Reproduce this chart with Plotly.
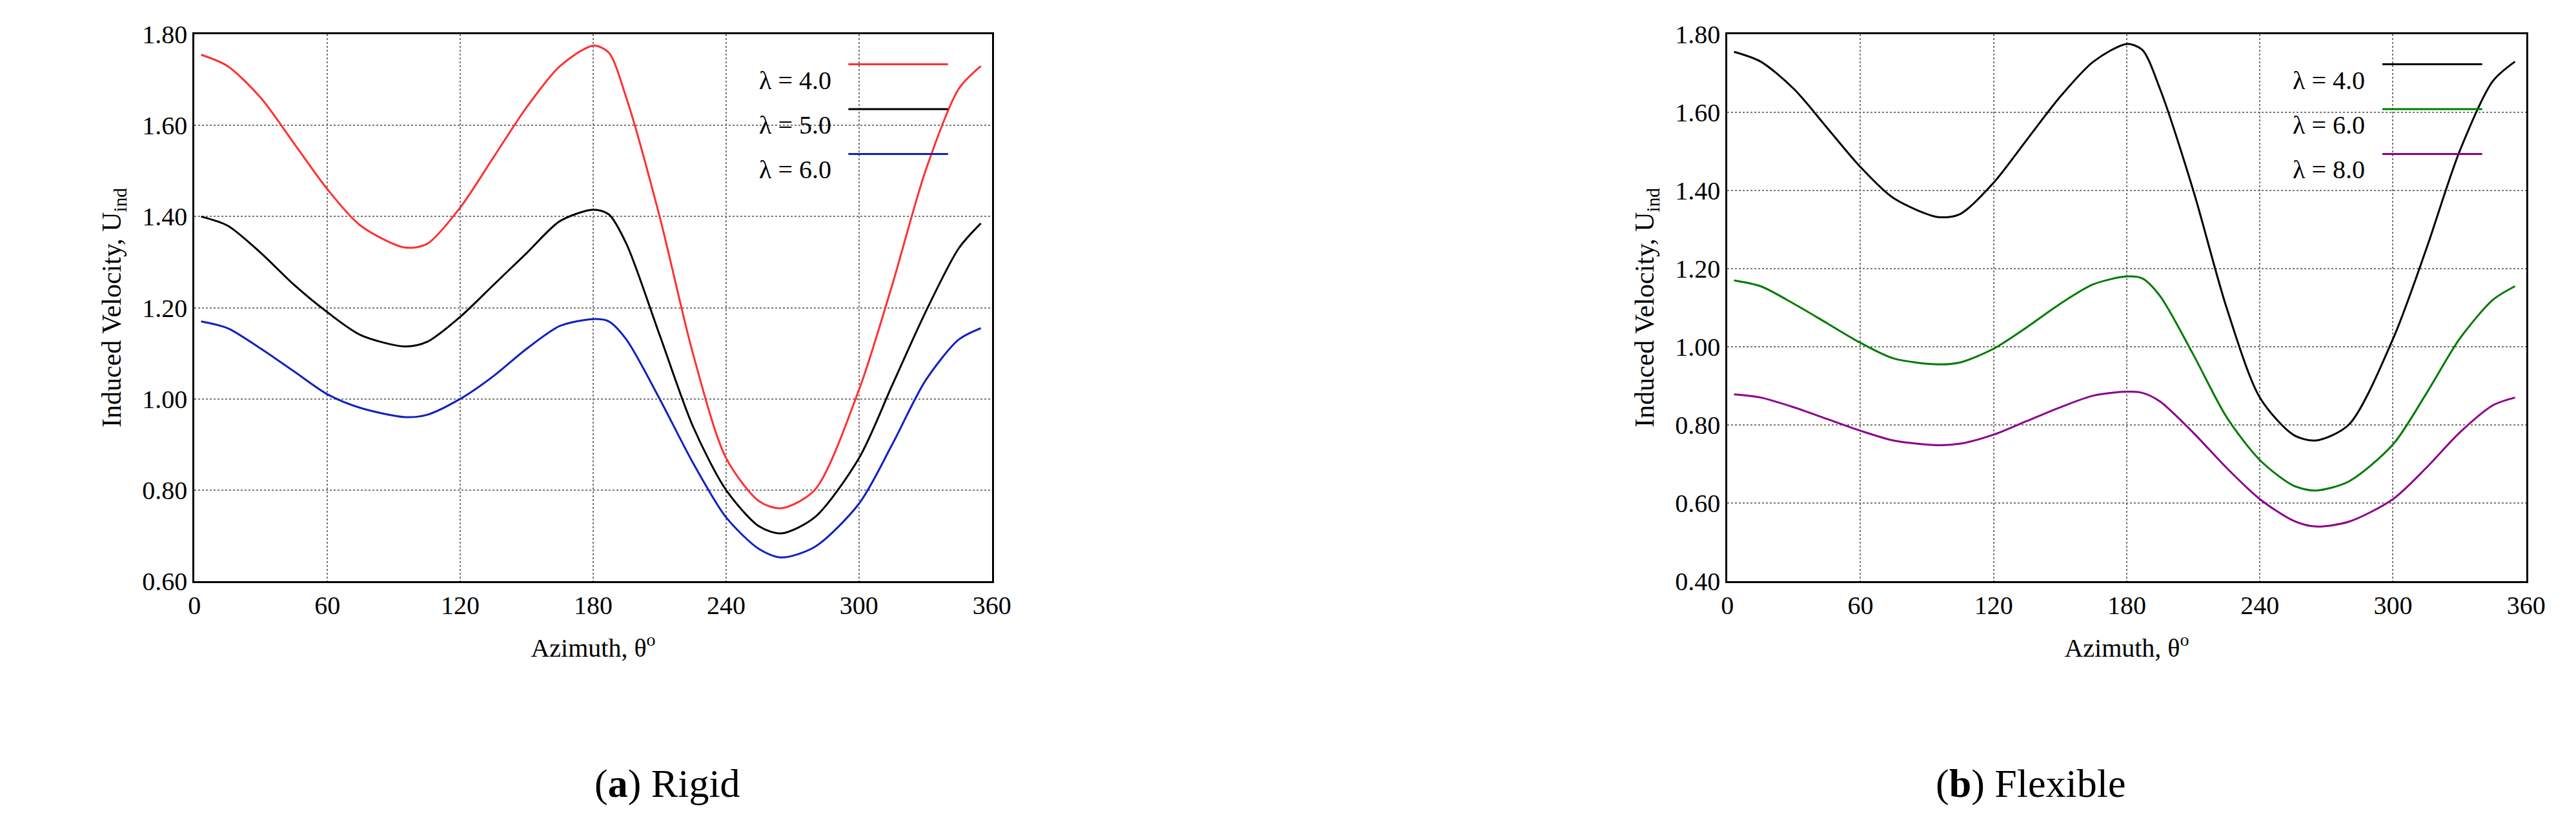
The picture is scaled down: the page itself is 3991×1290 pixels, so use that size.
import plotly.graph_objects as go
from plotly.subplots import make_subplots

# azimuth angles (deg)
theta = [3, 15, 30, 45, 60, 75, 95, 105, 120, 135, 150, 165, 180, 187, 195, 210,
         225, 240, 255, 265, 280, 300, 315, 330, 345, 355]

# rigid blade
rigid_l4 = [1.755, 1.73, 1.66, 1.56, 1.46, 1.38, 1.332, 1.34, 1.42, 1.53, 1.64, 1.73,
            1.775, 1.76, 1.66, 1.40, 1.10, 0.87, 0.775, 0.76, 0.80, 1.02, 1.25, 1.50,
            1.68, 1.73]
rigid_l5 = [1.40, 1.38, 1.32, 1.25, 1.19, 1.14, 1.115, 1.125, 1.18, 1.25, 1.32, 1.39,
            1.415, 1.405, 1.34, 1.14, 0.94, 0.80, 0.72, 0.705, 0.74, 0.87, 1.03, 1.19,
            1.33, 1.385]
rigid_l6 = [1.17, 1.155, 1.11, 1.06, 1.01, 0.98, 0.96, 0.965, 1.00, 1.05, 1.11, 1.16,
            1.175, 1.17, 1.13, 1.00, 0.86, 0.74, 0.67, 0.652, 0.675, 0.77, 0.90, 1.04,
            1.13, 1.155]

# flexible blade
flex_l4 = rigid_l4
flex_l6 = [1.17, 1.155, 1.11, 1.06, 1.01, 0.97, 0.955, 0.96, 0.995, 1.05, 1.11, 1.16,
           1.18, 1.175, 1.13, 0.98, 0.82, 0.71, 0.645, 0.632, 0.655, 0.75, 0.88, 1.02,
           1.12, 1.155]
flex_l8 = [0.878, 0.87, 0.845, 0.815, 0.785, 0.76, 0.748, 0.752, 0.775, 0.81, 0.845,
           0.875, 0.885, 0.882, 0.86, 0.78, 0.69, 0.61, 0.555, 0.54, 0.552, 0.61, 0.69,
           0.78, 0.85, 0.87]

panels = [
    ([("λ = 4.0", rigid_l4, "#ff3030"), ("λ = 5.0", rigid_l5, "black"),
      ("λ = 6.0", rigid_l6, "#1020c0")], [0.6, 1.8], "(<b>a</b>) Rigid"),
    ([("λ = 4.0", flex_l4, "black"), ("λ = 6.0", flex_l6, "#007a00"),
      ("λ = 8.0", flex_l8, "#8b008b")], [0.4, 1.8], "(<b>b</b>) Flexible"),
]

fig = make_subplots(rows=1, cols=2, horizontal_spacing=0.29)
font = dict(family="Liberation Serif", size=40, color="black")
domains = [(0.0717, 0.3844), (0.6728, 0.986)]

for i, (series, yr, caption) in enumerate(panels):
    col = i + 1
    for name, vals, color in series:
        fig.add_trace(go.Scatter(x=theta, y=vals, mode="lines", name=name,
                                 line=dict(color=color, width=3, shape="spline", smoothing=0.8),
                                 showlegend=False), row=1, col=col)
    fig.update_xaxes(range=[0, 360], dtick=60, domain=domains[i], row=1, col=col,
                     showline=True, mirror=True, linecolor="black", linewidth=3,
                     showgrid=True, gridcolor="#777", griddash="dot", gridwidth=1.5,
                     ticks="", zeroline=False, tickfont=font,
                     title=dict(text="Azimuth, θ<sup>o</sup>", font=font, standoff=30))
    fig.update_yaxes(range=yr, dtick=0.2, tickformat=".2f", row=1, col=col,
                     showline=True, mirror=True, linecolor="black", linewidth=3,
                     showgrid=True, gridcolor="#777", griddash="dot", gridwidth=1.5,
                     ticks="", zeroline=False, tickfont=font,
                     title=dict(text="Induced Velocity, U<sub>ind</sub>",
                                font=dict(family="Liberation Serif", size=42, color="black"),
                                standoff=20))
    x0, x1 = domains[i]
    # legend box (hides grid only, text left of sample line)
    fig.add_shape(type="rect", xref="paper", yref="paper",
                  x0=x0 + 0.66 * (x1 - x0), x1=x1 - 0.005, y0=0.72, y1=0.99,
                  fillcolor="white", line_width=0, layer="between")
    for k, (name, vals, color) in enumerate(series):
        yy = 0.945 - k * 0.082
        fig.add_annotation(xref="paper", yref="paper", x=x0 + 0.8 * (x1 - x0), y=yy,
                           text=name, showarrow=False, xanchor="right", font=font)
        fig.add_shape(type="line", xref="paper", yref="paper", layer="above",
                      x0=x0 + 0.82 * (x1 - x0), x1=x0 + 0.945 * (x1 - x0), y0=yy, y1=yy,
                      line=dict(color=color, width=3))
    fig.add_annotation(xref="paper", yref="paper", x=(x0 + x1) / 2, y=-0.37,
                       text=caption, showarrow=False, yanchor="middle",
                       font=dict(family="Liberation Serif", size=62, color="black"))

fig.update_layout(width=3991, height=1290, plot_bgcolor="white", paper_bgcolor="white",
                  margin=dict(l=0, r=0, t=45, b=398))
fig.write_html("out.html")
